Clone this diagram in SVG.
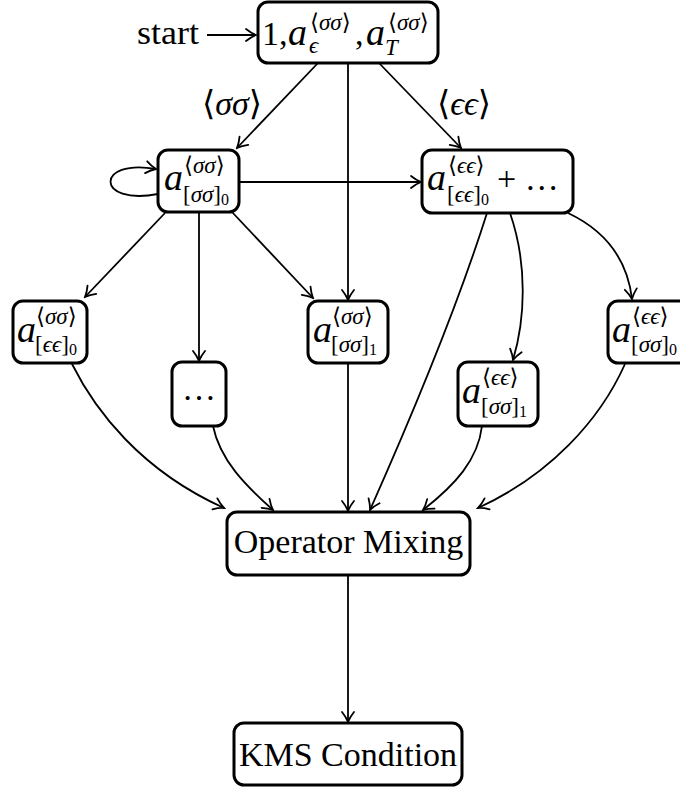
<svg xmlns="http://www.w3.org/2000/svg" width="680" height="790" viewBox="0 0 680 790" font-family="'Liberation Serif', 'DejaVu Serif', serif">
<defs>
<marker id="arr" viewBox="-12 -8 14 16" refX="0" refY="0" markerWidth="14" markerHeight="16" orient="auto" markerUnits="userSpaceOnUse">
<path d="M-10,-6 C-6,-2.8 -1.8,-0.7 0,0 C-1.8,0.7 -6,2.8 -10,6" fill="none" stroke="#000" stroke-width="1.8" stroke-linecap="round"/>
</marker>
</defs>
<style>
.box{fill:#fff;stroke:#000;stroke-width:3}
.e{fill:none;stroke:#000;stroke-width:1.8;marker-end:url(#arr)}
text{font-family:'Liberation Serif','DejaVu Serif',serif;fill:#000}
.m{font-size:34px}
.big{font-size:38px}
.it{font-style:italic}
.s{font-size:23px}
.ss{font-size:16px}
.ang{font-family:'DejaVu Serif','Liberation Serif',serif;font-style:normal}
</style>
<rect width="680" height="790" fill="#fff"/>
<g id="connectors">
<path class="e" d="M207,35 L256,35"/>
<path class="e" d="M318,63 L237,148"/>
<path class="e" d="M379,63 L461,148"/>
<path class="e" d="M348,63 L348,300"/>
<path class="e" d="M158,194 C95,206 95,158 156,169"/>
<path class="e" d="M239,182 L421,182"/>
<path class="e" d="M165,213 L85,297"/>
<path class="e" d="M199,212 L199,361"/>
<path class="e" d="M232,212 L313,298"/>
<path class="e" d="M568,213 Q625,240 632,299"/>
<path class="e" d="M510,213 C528,265 525,320 513,360"/>
<path class="e" d="M487,213 Q450,330 370,510"/>
<path class="e" d="M72,364 C95,410 140,470 224,508"/>
<path class="e" d="M213,426 C220,460 245,485 273,510"/>
<path class="e" d="M348,363 L348,511"/>
<path class="e" d="M482,426 C478,460 455,485 423,510"/>
<path class="e" d="M625,364 C600,420 550,475 478,508"/>
<path class="e" d="M348,575 L348,722"/>
<text class="m" x="202" y="115"><tspan class="ang">⟨</tspan><tspan class="it">σσ</tspan><tspan class="ang">⟩</tspan></text>
<text class="m" x="437" y="115"><tspan class="ang">⟨</tspan><tspan class="it">ϵϵ</tspan><tspan class="ang">⟩</tspan></text>
</g>
<g id="start">
<text class="m" x="137" y="44" textLength="62" lengthAdjust="spacingAndGlyphs">start</text>
</g>
<g id="top">
<rect class="box" x="258" y="2" width="180" height="61" rx="10"/>
<text class="m" x="262" y="45">1,</text>
<text class="big it" x="288" y="45">a</text>
<text class="s" x="310" y="30"><tspan class="ang">⟨</tspan><tspan class="it">σσ</tspan><tspan class="ang">⟩</tspan></text>
<text class="s it" x="309" y="53">ϵ</text>
<text class="m" x="355" y="45">,</text>
<text class="big it" x="366" y="45">a</text>
<text class="s" x="388" y="30"><tspan class="ang">⟨</tspan><tspan class="it">σσ</tspan><tspan class="ang">⟩</tspan></text>
<text class="s it" x="385" y="55">T</text>
</g>
<g id="a_ss_ss0">
<rect class="box" x="158" y="150" width="81" height="62" rx="10"/>
<text class="big it" x="164" y="190">a</text>
<text class="s" x="184" y="173"><tspan class="ang">⟨</tspan><tspan class="it">σσ</tspan><tspan class="ang">⟩</tspan></text>
<text class="s" x="183" y="202">[<tspan class="it">σσ</tspan>]<tspan class="ss" dy="3">0</tspan></text>
</g>
<g id="a_ee_ee0">
<rect class="box" x="422" y="150" width="151" height="63" rx="10"/>
<text class="big it" x="427" y="190">a</text>
<text class="s" x="448" y="173"><tspan class="ang">⟨</tspan><tspan class="it">ϵϵ</tspan><tspan class="ang">⟩</tspan></text>
<text class="s" x="447" y="202">[<tspan class="it">ϵϵ</tspan>]<tspan class="ss" dy="3">0</tspan></text>
<text class="m" x="497" y="190">+ …</text>
</g>
<g id="a_ss_ee0">
<rect class="box" x="13" y="301" width="74" height="62" rx="10"/>
<text class="big it" x="17" y="342">a</text>
<text class="s" x="36" y="324"><tspan class="ang">⟨</tspan><tspan class="it">σσ</tspan><tspan class="ang">⟩</tspan></text>
<text class="s" x="35" y="352">[<tspan class="it">ϵϵ</tspan>]<tspan class="ss" dy="3">0</tspan></text>
</g>
<g id="dots">
<rect class="box" x="172" y="362" width="54" height="64" rx="10"/>
<text class="m" x="199" y="400" text-anchor="middle">…</text>
</g>
<g id="a_ss_ss1">
<rect class="box" x="308" y="301" width="80" height="62" rx="10"/>
<text class="big it" x="313" y="342">a</text>
<text class="s" x="332" y="324"><tspan class="ang">⟨</tspan><tspan class="it">σσ</tspan><tspan class="ang">⟩</tspan></text>
<text class="s" x="331" y="352">[<tspan class="it">σσ</tspan>]<tspan class="ss" dy="3">1</tspan></text>
</g>
<g id="a_ee_ss1">
<rect class="box" x="458" y="362" width="80" height="64" rx="10"/>
<text class="big it" x="462" y="403">a</text>
<text class="s" x="482" y="385"><tspan class="ang">⟨</tspan><tspan class="it">ϵϵ</tspan><tspan class="ang">⟩</tspan></text>
<text class="s" x="481" y="414">[<tspan class="it">σσ</tspan>]<tspan class="ss" dy="3">1</tspan></text>
</g>
<g id="a_ee_ss0">
<rect class="box" x="608" y="301" width="82" height="62" rx="10"/>
<text class="big it" x="612" y="342">a</text>
<text class="s" x="632" y="324"><tspan class="ang">⟨</tspan><tspan class="it">ϵϵ</tspan><tspan class="ang">⟩</tspan></text>
<text class="s" x="631" y="352">[<tspan class="it">σσ</tspan>]<tspan class="ss" dy="3">0</tspan></text>
</g>
<g id="mixing">
<rect class="box" x="227" y="512" width="243" height="63" rx="10"/>
<text class="m" x="348.5" y="553" text-anchor="middle">Operator Mixing</text>
</g>
<g id="kms">
<rect class="box" x="234" y="723" width="228" height="62" rx="10"/>
<text class="m" x="348" y="766" text-anchor="middle">KMS Condition</text>
</g>
</svg>
